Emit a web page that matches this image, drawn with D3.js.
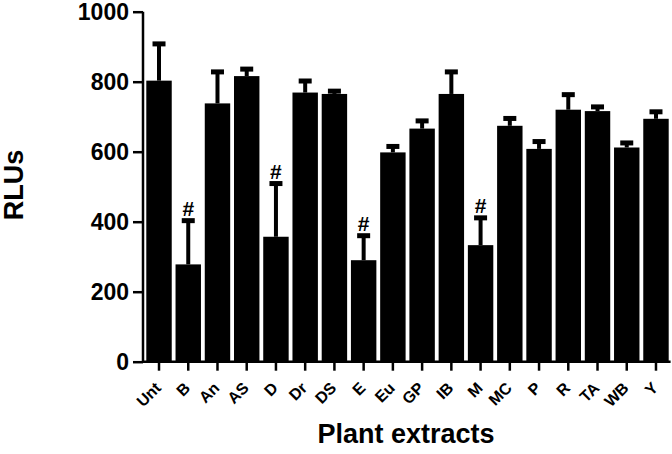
<!DOCTYPE html>
<html>
<head>
<meta charset="utf-8">
<style>
body { margin: 0; background: #fff; }
svg text { font-family: Arial, "Liberation Sans", sans-serif; fill: #000; }
</style>
</head>
<body>
<svg width="672" height="454"></svg>
<script src="https://d3js.org/d3.v7.min.js"></script>
<script>

    // data
    var categories = ["Unt", "B", "An", "AS", "D", "Dr", "DS", "E", "Eu", "GP", "IB", "M", "MC", "P", "R", "TA", "WB", "Y"];
    var means = [803, 278, 738, 816, 357, 769, 765, 290, 598, 666, 765, 333, 674, 608, 720, 716, 612, 694];
    var errors = [105, 125, 90, 20, 152, 33, 8, 70, 17, 22, 63, 78, 21, 21, 43, 12, 13, 20];
    var significant = ["B", "D", "E", "M"];
    var yTicks = [0, 200, 400, 600, 800, 1000];

    var data = categories.map(function(c, i) {
        return {name: c, mean: means[i], err: errors[i]};
    });

    var svg = d3.select("svg");

    var x = d3.scaleBand()
        .domain(categories)
        .range([144.4, 670.6])
        .paddingInner(0.13)
        .paddingOuter(0.065);

    var y = d3.scaleLinear()
        .domain([0, 1000])
        .range([361.7, 11.7]);

    // bars
    svg.append("g").selectAll("rect")
        .data(data)
        .enter().append("rect")
        .attr("x", function(d) { return x(d.name); })
        .attr("width", x.bandwidth())
        .attr("y", function(d) { return y(d.mean); })
        .attr("height", function(d) { return y(0) - y(d.mean); })
        .attr("fill", "#000");

    // error bars (upper only)
    var eb = svg.append("g").selectAll("g")
        .data(data)
        .enter().append("g")
        .attr("transform", function(d) { return "translate(" + (x(d.name) + x.bandwidth() / 2) + ",0)"; });

    eb.append("line")
        .attr("y1", function(d) { return y(d.mean); })
        .attr("y2", function(d) { return y(d.mean + d.err); })
        .attr("stroke", "#000")
        .attr("stroke-width", 4);

    eb.append("rect")
        .attr("x", -6.5)
        .attr("width", 13)
        .attr("y", function(d) { return y(d.mean + d.err) - 2.5; })
        .attr("height", 5)
        .attr("fill", "#000");

    // significance marks
    eb.filter(function(d) { return significant.indexOf(d.name) >= 0; })
        .append("text")
        .attr("y", function(d) { return y(d.mean + d.err) - 5; })
        .attr("text-anchor", "middle")
        .style("font-size", "21px")
        .style("font-weight", "bold")
        .text("#");

    // y axis
    var yAxis = svg.append("g")
        .attr("transform", "translate(143,0)")
        .call(d3.axisLeft(y).tickValues(yTicks).tickSize(10).tickPadding(4).tickFormat(d3.format("d")));
    yAxis.select(".domain").attr("d", "M0," + y(1000) + "V" + y(0)).attr("stroke-width", 2.5);
    yAxis.selectAll(".tick line").attr("stroke-width", 2.5);
    yAxis.selectAll(".tick text")
        .style("font-size", "23px")
        .style("font-weight", "bold")
        .style("font-family", "Arial, 'Liberation Sans', sans-serif");

    // x axis
    var xAxis = svg.append("g")
        .attr("transform", "translate(0," + y(0) + ")")
        .call(d3.axisBottom(x).tickSize(9).tickFormat(""));
    xAxis.select(".domain").attr("d", "M142,0H670.6").attr("stroke-width", 2.5);
    xAxis.selectAll(".tick line").attr("stroke-width", 2.5);

    // rotated category labels (-45 degrees, written as a matrix)
    var c45 = Math.SQRT1_2;
    svg.append("g").selectAll("text")
        .data(categories)
        .enter().append("text")
        .attr("transform", function(d) {
            var tx = x(d) + x.bandwidth() / 2 + 3;
            return "matrix(" + c45 + "," + (-c45) + "," + c45 + "," + c45 + "," + tx + ",389)";
        })
        .attr("text-anchor", "end")
        .style("font-size", "16px")
        .style("font-weight", "bold")
        .text(function(d) { return d; });

    // axis titles
    svg.append("text")
        .attr("transform", "translate(23,185) rotate(-90)")
        .attr("text-anchor", "middle")
        .style("font-size", "27px")
        .style("font-weight", "bold")
        .text("RLUs");

    svg.append("text")
        .attr("x", 406)
        .attr("y", 443)
        .attr("text-anchor", "middle")
        .style("font-size", "27px")
        .style("font-weight", "bold")
        .text("Plant extracts");

</script>
</body>
</html>
